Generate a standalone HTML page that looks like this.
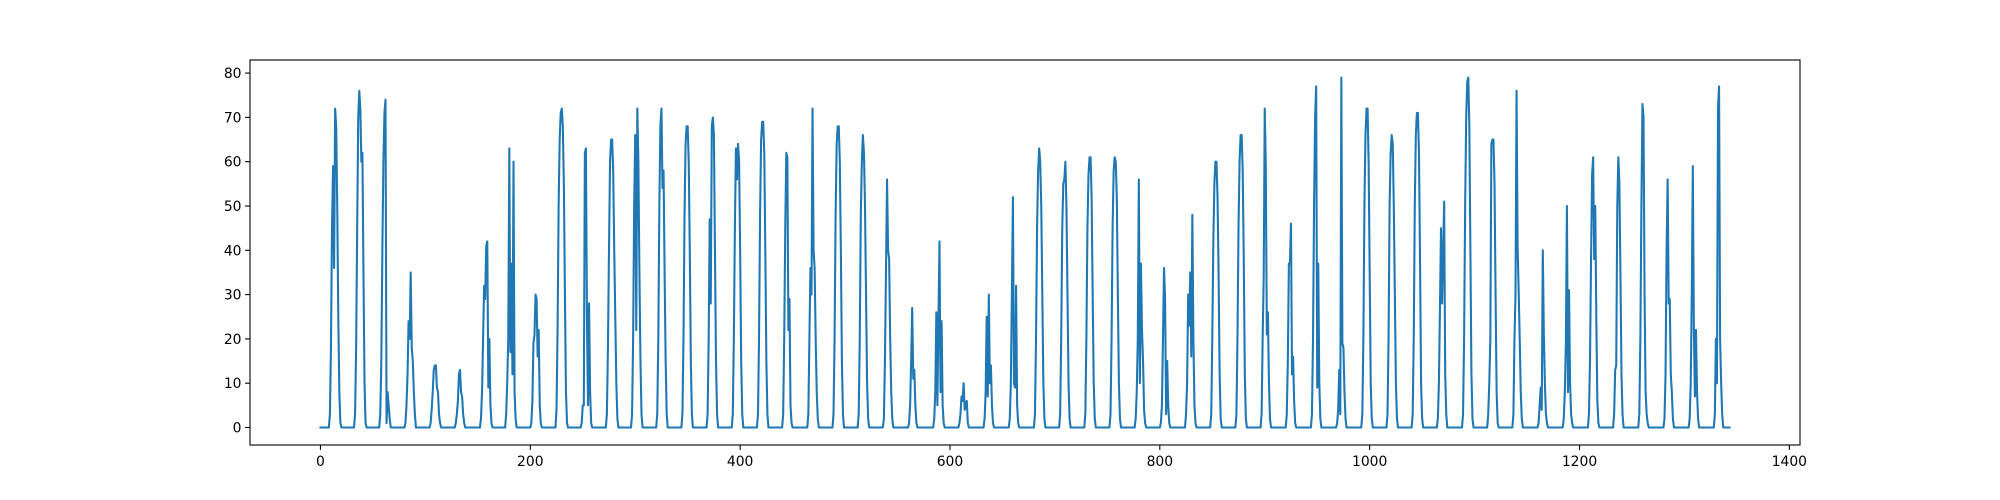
<!DOCTYPE html>
<html><head><meta charset="utf-8"><title>Daily series chart</title>
<style>
html,body{margin:0;padding:0;background:#fff;}
svg{display:block;font-family:"DejaVu Sans","Liberation Sans",sans-serif;}
</style></head>
<body>
<svg id="chart" width="2000" height="500" xmlns="http://www.w3.org/2000/svg">
<rect x="0" y="0" width="2000" height="500" fill="#fff"/>
<g id="plot"></g>
</svg>
<script>
// Daylight hourly values (hours 8..20) for each day; other hours are 0
const dayStartHour = 8;
const hoursPerDay = 24;
const dailyValues = [
[0,3,18,45,59,36,72,68,50,25,8,1,0],
[0,3,18,45,70,76,72,60,62,35,10,1,0],
[0,3,15,40,60,71,74,1,8,5,2,0,0],
[0,1,5,12,24,20,35,18,15,8,3,0,0],
[0,1,4,8,13,14,14,9,8,3,1,0,0],
[0,1,3,6,12,13,8,7,3,1,0,0,0],
[0,2,8,20,32,29,41,42,9,20,5,1,0],
[0,3,10,20,63,17,37,12,60,8,2,0,0],
[0,1,6,19,21,30,29,16,22,5,1,0,0],
[0,4,22,50,65,71,72,68,55,30,8,1,0],
[0,1,5,5,62,63,25,5,28,8,1,0,0],
[0,3,18,40,60,65,65,58,40,25,10,2,0],
[0,3,20,50,66,22,72,60,35,15,3,0,0],
[0,3,20,50,68,72,54,58,35,15,3,0,0],
[0,3,20,48,64,68,68,60,40,15,3,0,0],
[0,3,20,47,28,68,70,66,40,15,3,0,0],
[0,3,20,45,63,56,64,60,40,15,3,0,0],
[0,3,20,48,65,69,69,62,40,15,3,0,0],
[0,3,20,45,62,61,22,29,5,1,0,0,0],
[0,3,20,36,30,72,40,36,20,8,2,0,0],
[0,3,20,48,64,68,68,60,40,15,3,0,0],
[0,3,20,48,60,66,62,50,30,10,2,0,0],
[0,2,15,35,56,40,38,20,8,2,0,0,0],
[0,1,5,15,27,11,13,5,1,0,0,0,0],
[0,2,8,26,5,24,42,8,24,5,1,0,0],
[0,1,3,7,6,10,4,5,6,1,0,0,0],
[0,2,8,25,7,30,10,14,5,1,0,0,0],
[0,2,10,30,52,10,9,32,5,1,0,0,0],
[0,3,20,45,58,63,60,50,30,10,2,0,0],
[0,3,20,45,55,56,60,50,30,10,2,0,0],
[0,3,20,45,57,61,61,52,30,10,2,0,0],
[0,3,20,45,58,61,60,52,30,10,2,0,0],
[0,2,8,20,56,10,37,22,15,4,1,0,0],
[0,1,5,20,36,29,3,15,5,1,0,0,0],
[0,3,10,30,23,35,16,48,20,5,1,0,0],
[0,3,20,42,55,60,60,52,35,12,2,0,0],
[0,3,20,45,60,66,66,58,38,12,2,0,0],
[0,3,20,34,72,59,21,26,10,2,0,0,0],
[0,3,15,37,37,46,12,16,6,1,0,0,0],
[0,3,20,50,70,77,9,37,10,2,0,0,0],
[0,1,4,13,3,79,19,18,8,2,0,0,0],
[0,3,20,50,66,72,72,60,35,10,2,0,0],
[0,3,20,50,62,66,64,50,30,10,2,0,0],
[0,3,20,50,66,71,71,62,38,10,2,0,0],
[0,2,10,27,45,28,39,51,12,3,0,0,0],
[0,3,20,50,70,78,79,68,40,12,2,0,0],
[0,3,10,20,64,65,65,55,30,8,1,0,0],
[0,3,20,30,76,41,31,20,8,2,0,0,0],
[0,1,5,9,4,40,21,10,3,1,0,0,0],
[0,2,8,19,50,8,31,10,3,1,0,0,0],
[0,3,15,38,57,61,38,50,25,6,1,0,0],
[0,3,13,14,50,61,55,35,12,3,0,0,0],
[0,3,20,50,73,70,30,8,3,1,0,0,0],
[0,2,12,40,56,28,29,12,8,2,0,0,0],
[0,2,10,30,59,22,7,22,8,2,0,0,0],
[0,3,20,10,72,77,20,10,3,0,0,0,0]
];
const xTicks = [0,200,400,600,800,1000,1200,1400];
const yTicks = [0,10,20,30,40,50,60,70,80];

const NS = "http://www.w3.org/2000/svg";
const plot = document.getElementById('plot');
const L = 250, R = 1800, T = 60, B = 445;

const series = [];
dailyValues.forEach((day) => {
  for (let h = 0; h < hoursPerDay; h++) {
    const k = h - dayStartHour;
    series.push(k >= 0 && k < day.length ? day[k] : 0);
  }
});
const n = series.length;
const xMin = 0, xMax = n - 1, xPad = (xMax - xMin) * 0.05;
const yMin = Math.min(...series), yMax = Math.max(...series), yPad = (yMax - yMin) * 0.05;
const x0 = xMin - xPad, x1 = xMax + xPad, y0 = yMin - yPad, y1 = yMax + yPad;
const sx = v => L + (v - x0) / (x1 - x0) * (R - L);
const sy = v => B - (v - y0) / (y1 - y0) * (B - T);

function mk(tag, attrs) { const e = document.createElementNS(NS, tag); for (const k in attrs) e.setAttribute(k, attrs[k]); return e; }

let dstr = '';
series.forEach((v, i) => { dstr += (i ? 'L' : 'M') + sx(i).toFixed(2) + ' ' + sy(v).toFixed(2); });
const line = mk('path', {d: dstr, fill: 'none', stroke: '#1f77b4', 'stroke-width': 2.08, 'stroke-linejoin': 'round', 'stroke-linecap': 'square'});


plot.appendChild(line);

const frame = mk('rect', {x: L, y: T, width: R - L, height: B - T, fill: 'none', stroke: '#000', 'stroke-width': 1.1});


plot.appendChild(frame);

xTicks.forEach(t => {
  const x = sx(t);
  const tk = mk('line', {x1: x, x2: x, y1: B, y2: B + 4.9, stroke: '#000', 'stroke-width': 1.1});
  
  
  plot.appendChild(tk);
  const lb = mk('text', {x: x, y: B + 21, 'text-anchor': 'middle', 'font-size': 13.9, fill: '#000'});
  lb.textContent = t;
  
  
  plot.appendChild(lb);
});
yTicks.forEach(t => {
  const y = sy(t);
  const tk = mk('line', {x1: L - 4.9, x2: L, y1: y, y2: y, stroke: '#000', 'stroke-width': 1.1});
  
  
  plot.appendChild(tk);
  const lb = mk('text', {x: L - 8.5, y: y + 5, 'text-anchor': 'end', 'font-size': 13.9, fill: '#000'});
  lb.textContent = t;
  
  
  plot.appendChild(lb);
});
</script>
</body></html>
